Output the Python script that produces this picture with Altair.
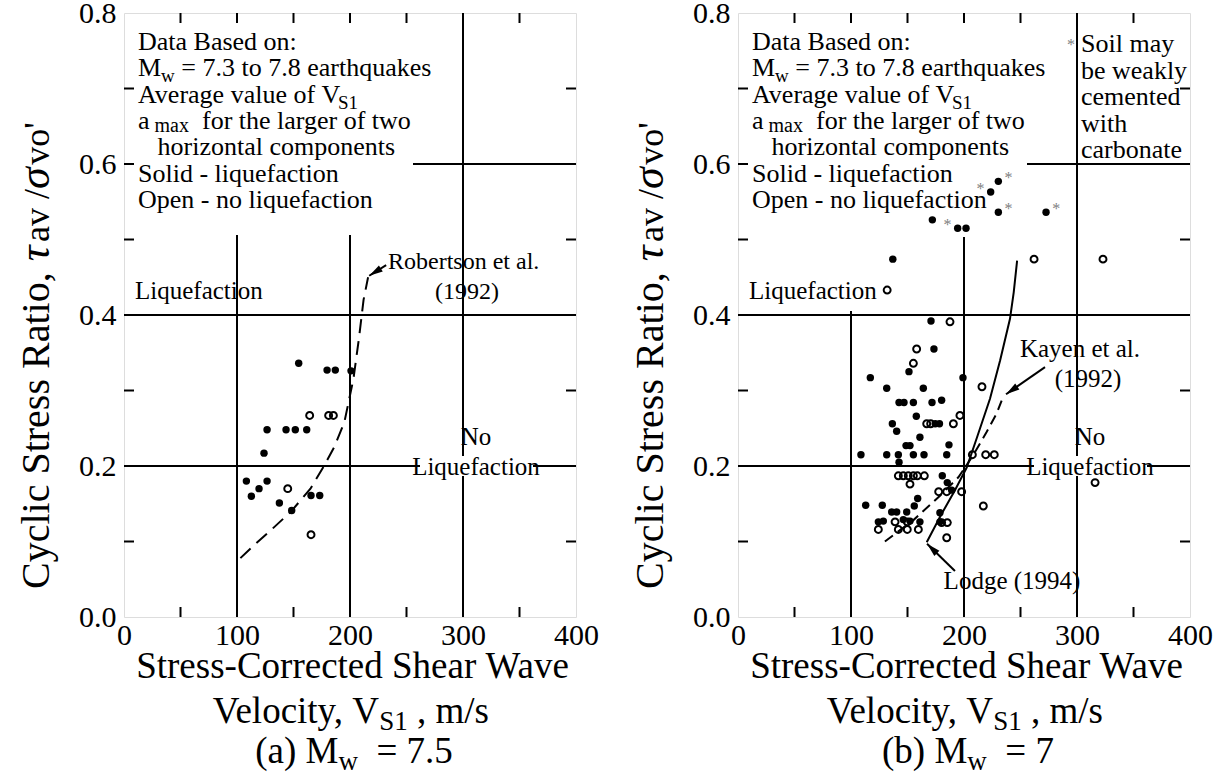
import math
import altair as alt
import pandas as pd

W, H = 452, 604
XMAX, YMAX = 400.0, 0.8
FONT = "Liberation Serif"
NB = "\u00a0"

# ---------------- data ----------------
# (a) Mw = 7.5
a_solid_x = [154.6, 179.7, 187.0, 200.9, 126.6, 143.4, 151.6, 161.7, 123.9, 108.3,
             126.6, 119.5, 112.7, 137.5, 148.4, 165.5, 173.2]
a_solid_y = [0.336, 0.327, 0.327, 0.326, 0.248, 0.248, 0.248, 0.248, 0.217, 0.180,
             0.180, 0.170, 0.160, 0.151, 0.141, 0.161, 0.161]
a_open_x = [164.3, 181.1, 185.3, 144.9, 165.5]
a_open_y = [0.267, 0.267, 0.267, 0.170, 0.109]
robertson_x = [103, 115, 130, 148, 165, 177, 186, 195, 203, 208, 212, 216]
robertson_y = [0.078, 0.095, 0.115, 0.14, 0.17, 0.2, 0.225, 0.258, 0.315, 0.37, 0.42, 0.45]

# (b) Mw = 7
b_solid_x = [170.8, 173.4, 151.3, 117.1, 131.6, 164.0, 199.1, 142.5, 146.9, 155.2,
             171.7, 180.2, 157.8, 136.6, 140.4, 161.0, 174.5, 178.3, 148.7, 152.2,
             186.7, 108.8, 131.6, 141.9, 155.2, 164.6, 184.7, 142.5, 180.8, 185.2,
             189.1, 159.0, 113.0, 127.7, 156.0, 136.0, 140.4, 149.3, 178.7, 124.2,
             128.6, 146.3, 152.2, 161.0, 178.7,
             230.4, 223.6, 230.4, 272.6, 172.0, 194.4, 201.8, 137.0]
b_solid_y = [0.392, 0.355, 0.325, 0.317, 0.303, 0.303, 0.317, 0.284, 0.284, 0.284,
             0.284, 0.287, 0.266, 0.256, 0.246, 0.238, 0.256, 0.256, 0.227, 0.227,
             0.228, 0.215, 0.215, 0.215, 0.215, 0.215, 0.215, 0.205, 0.187, 0.178,
             0.168, 0.157, 0.148, 0.148, 0.147, 0.139, 0.139, 0.139, 0.138, 0.126,
             0.127, 0.129, 0.127, 0.126, 0.126,
             0.577, 0.563, 0.536, 0.536, 0.526, 0.515, 0.515, 0.474]
b_open_x = [187.6, 158.1, 155.2, 215.9, 196.4, 190.6, 167.0, 170.5, 207.4, 219.2,
            226.8, 141.9, 146.3, 150.7, 155.2, 158.7, 164.9, 152.2, 177.6, 184.7,
            197.9, 217.1, 139.0, 149.8, 141.9, 149.8, 124.2, 159.6, 180.2, 185.2,
            184.7, 132.0, 262.0, 323.0, 316.0]
b_open_y = [0.391, 0.355, 0.336, 0.305, 0.267, 0.256, 0.256, 0.256, 0.215, 0.215,
            0.215, 0.187, 0.187, 0.187, 0.187, 0.187, 0.187, 0.176, 0.166, 0.166,
            0.166, 0.147, 0.126, 0.126, 0.116, 0.116, 0.116, 0.116, 0.125, 0.125,
            0.105, 0.433, 0.474, 0.474, 0.178]
# points flagged "soil may be weakly cemented" (asterisk side: +1 right, -1 left)
b_star_x = [230.4, 223.6, 230.4, 272.6, 194.4]
b_star_y = [0.577, 0.563, 0.536, 0.536, 0.515]
b_star_side = [1, -1, 1, 1, -1]
kayen_x = [130, 155, 179, 195, 208, 220, 229, 235]
kayen_y = [0.10, 0.128, 0.161, 0.185, 0.214, 0.245, 0.27, 0.293]
lodge_x = [167, 180, 192, 202.4, 212, 223, 232, 240.7, 244, 247]
lodge_y = [0.099, 0.136, 0.168, 0.198, 0.24, 0.289, 0.34, 0.395, 0.43, 0.472]

x_ticks = [0, 100, 200, 300, 400]
y_ticks = [0.0, 0.2, 0.4, 0.6, 0.8]
x_minor = [50, 100, 150, 200, 250, 300, 350]
y_minor = [0.1, 0.2, 0.3, 0.4, 0.5, 0.6, 0.7]
x_grid = [100, 200, 300]
y_grid = [0.2, 0.4, 0.6]

# ---------------- text metrics (Times / Liberation Serif) ----------------
TW = {' ': 250, NB: 250, '!': 333, "'": 180, '(': 333, ')': 333, '*': 500, ',': 250, '-': 333,
      '.': 250, '/': 278, ':': 278, '=': 564, 'τ': 440, 'σ': 550}
for d in '0123456789':
    TW[d] = 500
TW.update(dict(A=722, B=667, C=667, D=722, E=611, F=556, G=722, H=722, I=333, J=389,
               K=722, L=611, M=889, N=722, O=722, P=556, Q=722, R=667, S=556, T=611,
               U=722, V=722, W=944, X=722, Y=722, Z=611))
TW.update(dict(a=444, b=500, c=444, d=500, e=444, f=333, g=500, h=500, i=278, j=278,
               k=500, l=278, m=778, n=500, o=500, p=500, q=500, r=333, s=389, t=278,
               u=500, v=500, w=722, x=500, y=500, z=444))


def tw(s, fs):
    return sum(TW.get(c, 500) for c in s) / 1000.0 * fs


def px2x(px):
    return px / W * XMAX


def py2y(py):
    return (H - py) / H * YMAX


def seg_line(segs, x0, base, center=False):
    total = sum(tw(t, fs) for t, fs, dy, st in segs)
    x = x0 - total / 2 if center else x0
    rows = []
    prev, prev_fs = "", 0
    for t, fs, dy, st in segs:
        kern = -0.17 * prev_fs if (dy > 0 and prev.endswith("V")) else 0
        core = t.strip(" ")
        lead = len(t) - len(t.lstrip(" "))
        xs = x + kern + lead * tw(" ", fs)
        rows.append(dict(x=px2x(xs), y=py2y(base + dy), text=core.replace(" ", NB),
                         fs=fs, ang=0, st=st))
        x += tw(t, fs) + kern
        prev, prev_fs = t, fs
    return rows


def seg_vertical(segs, ax, ay_start):
    ay = ay_start
    rows = []
    for t, fs, st in segs:
        core = t.strip(" ")
        lead = len(t) - len(t.lstrip(" "))
        rows.append(dict(x=px2x(ax), y=py2y(ay - lead * tw(" ", fs)), text=core.replace(" ", NB),
                         fs=fs, ang=270, st=st))
        ay -= tw(t, fs)
    return rows


def panel_text(tag, val):
    rows = []
    B, BS, SUB = 26, 26.3, 19
    x0 = 14
    base0 = 37
    block = [
        [("Data Based on:", B, 0, "normal")],
        [("M", B, 0, "normal"), ("w", SUB, 6, "normal"), (" = 7.3 to 7.8 earthquakes", B, 0, "normal")],
        [("Average value of V", B, 0, "normal"), ("S1", SUB, 6, "normal")],
        [("a", B, 0, "normal"), (" max", 20, 3, "normal"), ("  for the larger of two", B, 0, "normal")],
        [("   horizontal components", B, 0, "normal")],
        [("Solid - liquefaction", B, 0, "normal")],
        [("Open - no liquefaction", B, 0, "normal")],
    ]
    for i, segs in enumerate(block):
        rows += seg_line(segs, x0, base0 + i * BS)
    L = 25
    rows += seg_line([("Liquefaction", L, 0, "normal")], 11, 286)
    rows += seg_line([("No", L, 0, "normal")], 352, 432, center=True)
    rows += seg_line([("Liquefaction", L, 0, "normal")], 352, 462, center=True)
    # x title
    T, TS = 37, 27
    rows += seg_line([("Stress-Corrected Shear Wave", T, 0, "normal")], 230, H + 61, center=True)
    rows += seg_line([("Velocity, V", T, 0, "normal"), ("S1", TS, 7, "normal"), (" , m/s", T, 0, "normal")],
                     230, H + 106, center=True)
    rows += seg_line([("(" + tag + ") M", T, 0, "normal"), ("w", TS, 7, "normal"), ("  = " + val, T, 0, "normal")],
                     230, H + 146, center=True)
    # y title (rotated)
    rows += seg_vertical([("Cyclic Stress Ratio,", 40, "normal"), (" τ", 44, "italic"),
                          ("av /", 36, "normal"), ("σ", 44, "italic"), ("vo'", 36, "normal")], -75, 576)
    return rows


xscale = alt.Scale(domain=[0, XMAX], nice=False, zero=False)
yscale = alt.Scale(domain=[0, YMAX], nice=False, zero=False)
xaxis = alt.Axis(values=x_ticks, format="d", labelFlush=False, labelPadding=3, title=None,
                 ticks=False, domain=False, grid=False, labelFont=FONT, labelFontSize=30,
                 labelColor="black")
yaxis = alt.Axis(values=y_ticks, format=".1f", labelFlush=False, labelPadding=8, title=None,
                 ticks=False, domain=False, grid=False, labelFont=FONT, labelFontSize=30,
                 labelColor="black")


def X(f="x"):
    return alt.X(f + ":Q", scale=xscale, axis=xaxis, title=None)


def Y(f="y"):
    return alt.Y(f + ":Q", scale=yscale, axis=yaxis, title=None)


def text_layers(rows):
    df = pd.DataFrame(rows)
    out = []
    for st in ["normal", "italic"]:
        d = df[df.st == st]
        if len(d) == 0:
            continue
        out.append(alt.Chart(d).mark_text(align="left", baseline="alphabetic", font=FONT,
                                          fontStyle=st, color="black").encode(
            x=X(), y=Y(), text="text:N",
            size=alt.Size("fs:Q", scale=None, legend=None),
            angle=alt.Angle("ang:Q", scale=None)))
    return out


def arrow(x1, y1, x2, y2):
    # tail (x1,y1) -> tip (x2,y2), data coords
    dpx = (x2 - x1) / XMAX * W
    dpy = -(y2 - y1) / YMAX * H
    ang = math.degrees(math.atan2(dpx, -dpy)) % 360
    d = pd.DataFrame(dict(x=[x1], y=[y1], x2=[x2], y2=[y2], ang=[ang]))
    line = alt.Chart(d).mark_rule(color="black", strokeWidth=2).encode(
        x=X(), y=Y(), x2="x2:Q", y2="y2:Q")
    head = alt.Chart(d).mark_point(shape="M0,0 L0.45,1.7 L-0.45,1.7 Z", filled=True,
                                   color="black", opacity=1, size=260).encode(
        x=X("x2"), y=Y("y2"), angle=alt.Angle("ang:Q", scale=None))
    return [line, head]


def masks(rects):
    d = pd.DataFrame([dict(x=px2x(a), x2=px2x(b), y=py2y(c), y2=py2y(e)) for a, b, c, e in rects])
    return alt.Chart(d).mark_rect(color="white", opacity=1).encode(x=X(), x2="x2:Q", y=Y(), y2="y2:Q")


def frame_layers():
    g1 = alt.Chart(pd.DataFrame(dict(x=x_grid))).mark_rule(color="black", strokeWidth=2).encode(x=X())
    g2 = alt.Chart(pd.DataFrame(dict(y=y_grid))).mark_rule(color="black", strokeWidth=2).encode(y=Y())
    return [g1, g2]


def tick_layers():
    dx = pd.DataFrame(dict(x=x_minor))
    dy = pd.DataFrame(dict(y=y_minor))
    t = []
    t.append(alt.Chart(dx).mark_rule(color="black", strokeWidth=2).encode(
        x=X(), y=alt.value(H), y2=alt.value(H - 10)))
    t.append(alt.Chart(dx).mark_rule(color="black", strokeWidth=2).encode(
        x=X(), y=alt.value(0), y2=alt.value(10)))
    t.append(alt.Chart(dy).mark_rule(color="black", strokeWidth=2).encode(
        y=Y(), x=alt.value(0), x2=alt.value(10)))
    t.append(alt.Chart(dy).mark_rule(color="black", strokeWidth=2).encode(
        y=Y(), x=alt.value(W), x2=alt.value(W - 10)))
    return t


def pts(xs, ys, filled):
    d = pd.DataFrame(dict(x=xs, y=ys))
    if filled:
        m = alt.Chart(d).mark_point(shape="circle", filled=True, size=55, color="black", opacity=1)
    else:
        m = alt.Chart(d).mark_point(shape="circle", filled=False, size=48, strokeWidth=2,
                                    color="black", opacity=1)
    return m.encode(x=X(), y=Y())


def curve(xs, ys, dash=None):
    d = pd.DataFrame(dict(x=xs, y=ys, i=list(range(len(xs)))))
    kw = dict(color="black", strokeWidth=2)
    if dash:
        kw["strokeDash"] = dash
    return alt.Chart(d).mark_line(**kw).encode(x=X(), y=Y(), order="i:Q")


# ---------------- panel (a) ----------------
rows_a = panel_text("a", "7.5")
rows_a += seg_line([("Robertson et al.", 24, 0, "normal")], 264, 256)
rows_a += seg_line([("(1992)", 24, 0, "normal")], 343, 286, center=True)

layers_a = frame_layers()
layers_a.append(masks([(2, 289, 2, 222), (296, 409, 443, 463)]))
layers_a += tick_layers()
layers_a.append(curve(robertson_x, robertson_y, [14, 8]))
layers_a += arrow(232, 0.466, 217, 0.452)
layers_a.append(pts(a_solid_x, a_solid_y, True))
layers_a.append(pts(a_open_x, a_open_y, False))
layers_a += text_layers(rows_a)
panel_a = alt.layer(*layers_a).properties(width=W, height=H)

# ---------------- panel (b) ----------------
rows_b = panel_text("b", "7")
rows_b += seg_line([("Kayen et al.", 25, 0, "normal")], 342, 344, center=True)
rows_b += seg_line([("(1992)", 25, 0, "normal")], 350, 374, center=True)
rows_b += seg_line([("Lodge (1994)", 25, 0, "normal")], 274, 576, center=True)
for i, s in enumerate(["Soil may", "be weakly", "cemented", "with", "carbonate"]):
    rows_b += seg_line([(s, 26, 0, "normal")], 343, 39 + i * 26.5)

star_df = pd.DataFrame(dict(x=[x + s * 9.0 for x, s in zip(b_star_x, b_star_side)] + [px2x(333)],
                            y=[y + 0.004 for y in b_star_y] + [py2y(32)]))
stars = alt.Chart(star_df).mark_text(text="*", font=FONT, fontSize=16, color="#808080",
                                     baseline="middle", align="center").encode(x=X(), y=Y())

layers_b = frame_layers()
layers_b.append(masks([(2, 289, 2, 224), (2, 120, 224, 298), (296, 409, 443, 463)]))
layers_b += tick_layers()
layers_b.append(curve(kayen_x, kayen_y, [10, 6]))
layers_b.append(curve(lodge_x, lodge_y))
layers_b += arrow(271.7, 0.331, 237.2, 0.295)
layers_b += arrow(192, 0.061, 167.3, 0.097)
layers_b.append(pts(b_solid_x, b_solid_y, True))
layers_b.append(pts(b_open_x, b_open_y, False))
layers_b.append(stars)
layers_b += text_layers(rows_b)
panel_b = alt.layer(*layers_b).properties(width=W, height=H)

chart = alt.hconcat(panel_a, panel_b, spacing=28).properties(
    padding={"left": 13, "top": -3, "right": 0, "bottom": 0}
).configure_view(stroke="black", strokeWidth=2.5).configure(background="white")

chart.save("out.html", embed_options={"renderer": "svg", "actions": False})
